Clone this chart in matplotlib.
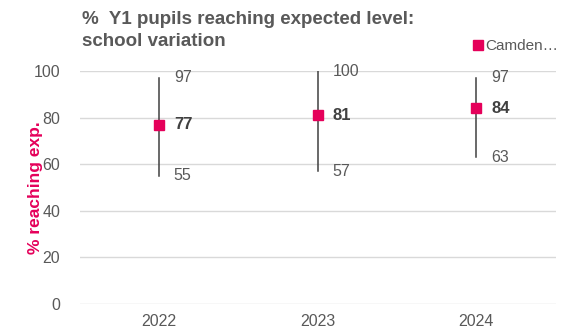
import matplotlib
matplotlib.use("Agg")
import matplotlib.pyplot as plt
from matplotlib.lines import Line2D

plt.rcParams['font.family'] = ['Liberation Sans', 'DejaVu Sans']

years = ["2022", "2023", "2024"]
camden = [77, 81, 84]
school_max = [97, 100, 97]
school_min = [55, 57, 63]
y_ticks = [0, 20, 40, 60, 80, 100]

PINK = "#E5005A"
GREY = "#595959"
GRID = "#D9D9D9"

fig = plt.figure(figsize=(5.61, 3.31), dpi=100)
ax = fig.add_axes([79.5 / 561, 1 - 304 / 331, 476 / 561, (304 - 71) / 331])

x = list(range(len(years)))
for xi, lo, hi, m in zip(x, school_min, school_max, camden):
    ax.plot([xi, xi], [lo, hi], color="#404040", lw=1.1, zorder=2)
    ax.annotate(f"{hi}", (xi, hi), xytext=(15, 0), textcoords="offset pixels",
                ha="left", va="center", fontsize=11.5, color=GREY)
    ax.annotate(f"{lo}", (xi, lo), xytext=(15, 0), textcoords="offset pixels",
                ha="left", va="center", fontsize=11.5, color=GREY)
    ax.annotate(f"{m}", (xi, m), xytext=(15, 0), textcoords="offset pixels",
                ha="left", va="center", fontsize=12, color="#404040", fontweight="bold")

ax.plot(x, camden, ls="none", marker="s", ms=7.5, color=PINK, zorder=3)

ax.set_xlim(-0.5, len(years) - 0.5)
ax.set_ylim(0, 100)
ax.set_yticks(y_ticks)
ax.set_xticks(x)
ax.set_xticklabels(years)
ax.tick_params(axis="both", length=0, labelsize=11.5, labelcolor=GREY)
ax.tick_params(axis="y", pad=14)
ax.tick_params(axis="x", pad=7)
ax.yaxis.grid(True, color=GRID, lw=1)
ax.set_axisbelow(True)
for s in ax.spines.values():
    s.set_visible(False)

ax.set_ylabel("% reaching exp.", color=PINK, fontsize=12.5, fontweight="bold")
ax.yaxis.set_label_coords(-(79.5 - 43) / 476, 0.5)

fig.text(82 / 561, 1 - 11 / 331, "%  Y1 pupils reaching expected level:\nschool variation",
         ha="left", va="top", fontsize=13.5, fontweight="bold", color=GREY, linespacing=1.4)

fig.legend(handles=[Line2D([], [], ls="none", marker="s", ms=7, color=PINK)],
           labels=["Camden…"], loc="center left",
           bbox_to_anchor=(470 / 561, 1 - 46 / 331),
           frameon=False, fontsize=11, labelcolor=GREY, handletextpad=0.0,
           handlelength=1.0, borderpad=0.0, borderaxespad=0.0)

fig.savefig("out.png", dpi=100)
